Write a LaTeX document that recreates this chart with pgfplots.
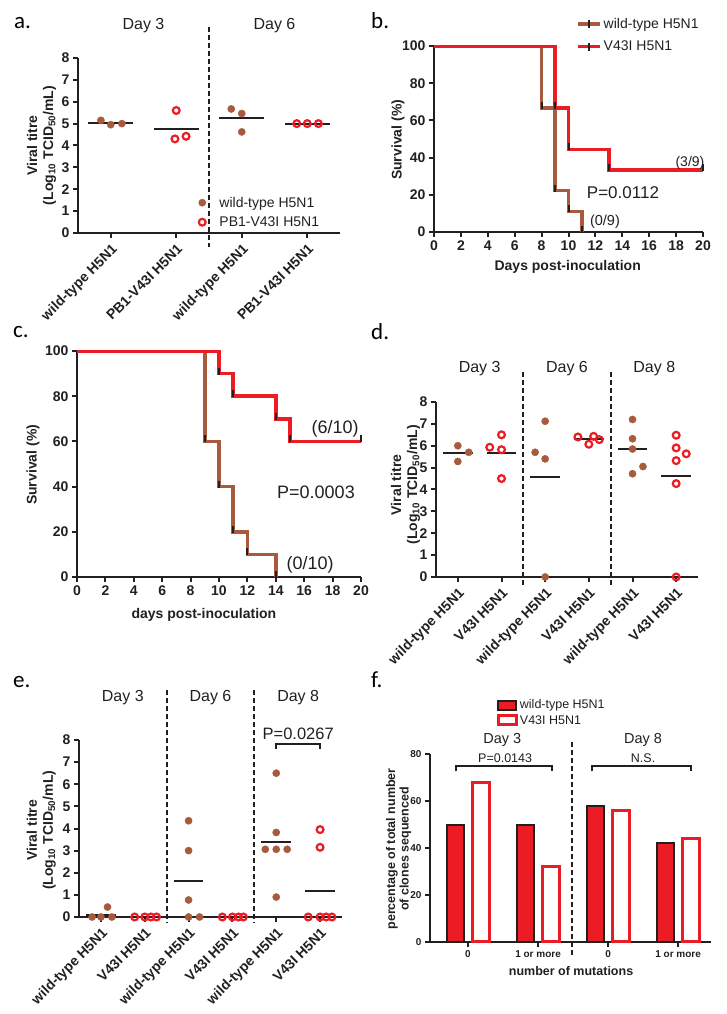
\documentclass[border=0pt]{standalone}
\usepackage{pgfplots}
\pgfplotsset{compat=1.18}
\usepackage{fontspec}
\setmainfont{Liberation Sans}
\newfontfamily\carlito{Carlito}
\definecolor{wtb}{RGB}{168,90,62}
\definecolor{vr}{RGB}{236,28,36}
\definecolor{axk}{RGB}{35,31,32}
\pgfdeclareplotmark{cens}{\pgfpathmoveto{\pgfqpoint{0pt}{-1pt}}\pgfpathlineto{\pgfqpoint{0pt}{6pt}}\pgfusepathqstroke}
\newcommand{\fs}[1]{\fontsize{#1}{#1}\selectfont}
\tikzset{dsh/.style={axk, line width=2.2pt, dash pattern=on 5pt off 3pt}}
\pgfplotsset{
  gp/.style={scale only axis, anchor=south west, axis x line*=bottom, axis y line*=left,
    axis line style={line width=2pt, axk}, tick align=outside,
    major tick length=5pt, tick style={line width=2pt, axk},
    /pgf/number format/assume math mode=true,
    ticklabel style={font=\bfseries\fs{14}, text=axk},
    label style={font=\bfseries\fs{14}, text=axk}},
  scat/.style={gp, clip=false, xmin=0.5, ymin=0, ymax=8, ytick={0,...,8},
    xticklabel style={rotate=45, anchor=north east, font=\bfseries\fs{14}},
    ylabel={Viral titre\\[2pt](Log\textsubscript{10} TCID\textsubscript{50}/mL)}},
  wt/.style={only marks, mark=*, mark size=3.6pt, wtb, mark options={fill=wtb, draw=wtb}},
  vi/.style={only marks, mark=o, mark size=3.4pt, vr, mark options={line width=2.2pt}},
  mn/.style={axk, line width=2pt, mark=none, forget plot},
  surv/.style={gp, xmin=0, xmax=20, ymin=0, ymax=100, xtick={0,2,...,20}, ytick={0,20,...,100}},
  km/.style={line width=3.5pt, const plot, mark=cens, mark indices={2,3,4,5,6}, mark options={axk, line width=2pt, solid}},
}
\begin{document}
\begin{tikzpicture}
\path (0pt,0pt) rectangle (726pt,1014pt);
% panel letters
\node[anchor=base west, font=\carlito\fs{23}, inner sep=0pt] at (14pt,985pt) {a.};
\node[anchor=base west, font=\carlito\fs{23}, inner sep=0pt] at (371pt,985pt) {b.};
\node[anchor=base west, font=\carlito\fs{23}, inner sep=0pt] at (13pt,676pt) {c.};
\node[anchor=base west, font=\carlito\fs{23}, inner sep=0pt] at (371pt,674pt) {d.};
\node[anchor=base west, font=\carlito\fs{23}, inner sep=0pt] at (13pt,326pt) {e.};
\node[anchor=base west, font=\carlito\fs{23}, inner sep=0pt] at (371pt,326pt) {f.};

% ---------------- a
\begin{axis}[scat, at={(78pt,781pt)}, width=262pt, height=175pt, xmax=4.5,
  xtick={1,2,3,4}, xticklabels={wild-type H5N1, PB1-V43I H5N1, wild-type H5N1, PB1-V43I H5N1},
  ylabel style={at={(axis description cs:-0.139,0.5)}, anchor=center, align=center},
  legend cell align=left,
  legend style={at={(axis cs:2.33,1.75)}, anchor=north west, draw=none, fill=none, inner sep=0pt,
    font=\fs{14}, row sep=4pt, text=axk},
  legend image code/.code={\draw[#1] plot coordinates {(0pt,0pt)}; \path (-4pt,0pt) (15pt,0pt);}]
\addplot[wt] coordinates {(0.85,5.15) (1.0,4.95) (1.17,5.0)};
\addlegendentry{wild-type H5N1}
\addplot[vi] coordinates {(2.0,5.6) (1.98,4.3) (2.15,4.42)};
\addlegendentry{PB1-V43I H5N1}
\addplot[wt, forget plot] coordinates {(2.84,5.67) (3.0,5.46) (3.0,4.62)};
\addplot[vi, forget plot] coordinates {(3.84,5.0) (4.0,5.0) (4.17,5.0)};
\addplot[mn] coordinates {(0.66,5.03) (1.34,5.03)};
\addplot[mn] coordinates {(1.66,4.77) (2.34,4.77)};
\addplot[mn] coordinates {(2.66,5.25) (3.34,5.25)};
\addplot[mn] coordinates {(3.66,5.0) (4.34,5.0)};
\draw[dsh] (axis cs:2.5,9.4) -- (axis cs:2.5,-0.64);
\node[font=\fs{16}, text=axk] at (axis cs:1.5,9.5) {Day 3};
\node[font=\fs{16}, text=axk] at (axis cs:3.5,9.5) {Day 6};
\end{axis}

% ---------------- b
\begin{axis}[surv, at={(434pt,782pt)}, width=269pt, height=186pt,
  xlabel={Days post-inoculation}, ylabel={Survival (\%)},
  xlabel style={at={(axis description cs:0.497,-0.188)}, anchor=center},
  ylabel style={at={(axis description cs:-0.134,0.495)}, anchor=center},
  legend cell align=left,
  legend style={at={(axis cs:10.56,116)}, anchor=north west, draw=none, fill=none, inner sep=0pt,
    font=\fs{14}, row sep=7pt, text=axk},
  legend image code/.code={\draw[#1, mark=none] (0pt,0pt) -- (22pt,0pt); \draw[axk, line width=2pt] (11pt,-4pt) -- (11pt,4pt);}]
\addplot[km, wtb] coordinates {(0,100) (8,66.7) (9,22.2) (10,11.1) (11,0)};
\addlegendentry{wild-type H5N1}
\addplot[km, vr] coordinates {(0,100) (9,66.7) (10,44.4) (13,33.3) (20,33.3)};
\addlegendentry{V43I H5N1}
\node[font=\fs{14}, text=axk] at (axis cs:19.03,37.1) {(3/9)};
\node[font=\fs{17}, text=axk] at (axis cs:14.05,21.0) {P=0.0112};
\node[font=\fs{14.5}, text=axk] at (axis cs:12.71,5.4) {(0/9)};
\end{axis}

% ---------------- c
\begin{axis}[surv, at={(77pt,437pt)}, width=284pt, height=226pt,
  xlabel={days post-inoculation}, ylabel={Survival (\%)},
  xlabel style={at={(axis description cs:0.447,-0.168)}, anchor=center},
  ylabel style={at={(axis description cs:-0.155,0.496)}, anchor=center}]
\addplot[km, wtb] coordinates {(0,100) (9,60) (10,40) (11,20) (12,10) (14,0)};
\addplot[km, vr] coordinates {(0,100) (10,90) (11,80) (14,70) (15,60) (20,60)};
\node[font=\fs{18}, text=axk] at (axis cs:18.17,65.5) {(6/10)};
\node[font=\fs{18}, text=axk] at (axis cs:16.83,37.6) {P=0.0003};
\node[font=\fs{18}, text=axk] at (axis cs:16.41,5.3) {(0/10)};
\end{axis}

% ---------------- d
\begin{axis}[scat, at={(436pt,437pt)}, width=262pt, height=175pt, xmax=6.5,
  xtick={1,...,6}, xticklabels={wild-type H5N1, V43I H5N1, wild-type H5N1, V43I H5N1, wild-type H5N1, V43I H5N1},
  ylabel style={at={(axis description cs:-0.116,0.526)}, anchor=center, align=center}]
\addplot[wt] coordinates {(1,6.0) (1.25,5.7) (1,5.28)};
\addplot[vi] coordinates {(2,6.5) (1.73,5.93) (2,5.82) (2,4.5)};
\addplot[wt] coordinates {(3,7.12) (2.77,5.7) (3,5.4) (3,0)};
\addplot[vi] coordinates {(3.75,6.4) (4,6.07) (4.11,6.43) (4.24,6.28)};
\addplot[wt] coordinates {(5,7.2) (5,6.32) (5,5.85) (5.24,5.05) (5,4.72)};
\addplot[vi] coordinates {(6,6.48) (6,5.9) (6.23,5.63) (6,5.32) (6,4.27) (6,0)};
\addplot[mn] coordinates {(0.66,5.68) (1.34,5.68)};
\addplot[mn] coordinates {(1.66,5.68) (2.34,5.68)};
\addplot[mn] coordinates {(2.66,4.55) (3.34,4.55)};
\addplot[mn] coordinates {(3.66,6.3) (4.34,6.3)};
\addplot[mn] coordinates {(4.66,5.83) (5.34,5.83)};
\addplot[mn] coordinates {(5.66,4.6) (6.34,4.6)};
\draw[dsh] (axis cs:2.5,9.37) -- (axis cs:2.5,-0.5);
\draw[dsh] (axis cs:4.5,9.37) -- (axis cs:4.5,-0.5);
\node[font=\fs{16}, text=axk] at (axis cs:1.5,9.55) {Day 3};
\node[font=\fs{16}, text=axk] at (axis cs:3.5,9.55) {Day 6};
\node[font=\fs{16}, text=axk] at (axis cs:5.5,9.55) {Day 8};
\end{axis}

% ---------------- e
\begin{axis}[scat, at={(79pt,97pt)}, width=263pt, height=177pt, xmax=6.5,
  xtick={1,...,6}, xticklabels={wild-type H5N1, V43I H5N1, wild-type H5N1, V43I H5N1, wild-type H5N1, V43I H5N1},
  ylabel style={at={(axis description cs:-0.143,0.49)}, anchor=center, align=center}]
\addplot[wt] coordinates {(0.8,0) (1.0,0) (1.25,0) (1.15,0.45)};
\addplot[vi] coordinates {(1.77,0) (2.0,0) (2.14,0) (2.27,0)};
\addplot[wt] coordinates {(3,4.35) (3,3.0) (3,0.77) (3,0) (3.25,0)};
\addplot[vi] coordinates {(3.77,0) (4,0) (4.14,0) (4.25,0)};
\addplot[wt] coordinates {(5,6.5) (5,3.82) (4.75,3.06) (5,3.06) (5.25,3.06) (5,0.9)};
\addplot[vi] coordinates {(6,3.95) (6,3.15) (5.73,0) (6,0) (6.14,0) (6.27,0)};
\addplot[mn] coordinates {(0.66,0.11) (1.34,0.11)};
\addplot[mn] coordinates {(2.66,1.62) (3.34,1.62)};
\addplot[mn] coordinates {(4.66,3.4) (5.34,3.4)};
\addplot[mn] coordinates {(5.66,1.18) (6.34,1.18)};
\draw[dsh] (axis cs:2.5,10.26) -- (axis cs:2.5,-0.27);
\draw[dsh] (axis cs:4.5,10.26) -- (axis cs:4.5,-0.27);
\node[font=\fs{16}, text=axk] at (axis cs:1.5,9.9) {Day 3};
\node[font=\fs{16}, text=axk] at (axis cs:3.5,9.9) {Day 6};
\node[font=\fs{16}, text=axk] at (axis cs:5.5,9.9) {Day 8};
\draw[axk, line width=2pt] (axis cs:5,7.6) -- (axis cs:5,7.82) -- (axis cs:6,7.82) -- (axis cs:6,7.6);
\node[font=\fs{16.5}, text=axk] at (axis cs:5.5,8.27) {P=0.0267};
\end{axis}

% ---------------- f
\begin{axis}[gp, clip=false, at={(430pt,72pt)}, width=281pt, height=188pt,
  xmin=0.457, xmax=4.47, ymin=0, ymax=80, ytick={0,20,...,80},
  xtick={1,2,3,4}, xticklabels={0, 1 or more, 0, 1 or more},
  ticklabel style={font=\bfseries\fs{10}},
  xlabel={number of mutations},
  ylabel={percentage of total number\\[1pt]of clones sequenced},
  label style={font=\bfseries\fs{12.5}},
  xlabel style={at={(axis description cs:0.502,-0.154)}, anchor=center},
  ylabel style={at={(axis description cs:-0.112,0.495)}, anchor=center, align=center},
  legend cell align=left,
  legend style={at={(axis cs:1.41,104)}, anchor=north west, draw=none, fill=none, inner sep=0pt,
    font=\fs{12.5}, row sep=1pt, text=axk},
  legend image code/.code={\draw[#1] (0pt,-4.5pt) rectangle (18pt,4.5pt);}]
\addplot[ybar, bar width=17pt, bar shift=-13pt, fill=vr, draw=axk, line width=2pt] coordinates {(1,50) (2,50) (3,58) (4,42)};
\addlegendentry{wild-type H5N1}
\addplot[ybar, bar width=17pt, bar shift=13pt, fill=white, draw=vr, line width=3pt] coordinates {(1,68) (2,32) (3,56) (4,44)};
\addlegendentry{V43I H5N1}
\draw[dsh] (axis cs:2.49,85.1) -- (axis cs:2.49,-6.4);
\node[font=\fs{14.5}, text=axk] at (axis cs:1.49,86) {Day 3};
\node[font=\fs{14.5}, text=axk] at (axis cs:3.5,86) {Day 8};
\draw[axk, line width=2pt] (axis cs:0.83,72.6) -- (axis cs:0.83,74.9) -- (axis cs:2.2,74.9) -- (axis cs:2.2,72.6);
\draw[axk, line width=2pt] (axis cs:2.77,72.6) -- (axis cs:2.77,74.9) -- (axis cs:4.19,74.9) -- (axis cs:4.19,72.6);
\node[font=\fs{12.5}, text=axk] at (axis cs:1.53,78.4) {P=0.0143};
\node[font=\fs{12.5}, text=axk] at (axis cs:3.5,78.4) {N.S.};
\end{axis}
\end{tikzpicture}
\end{document}
